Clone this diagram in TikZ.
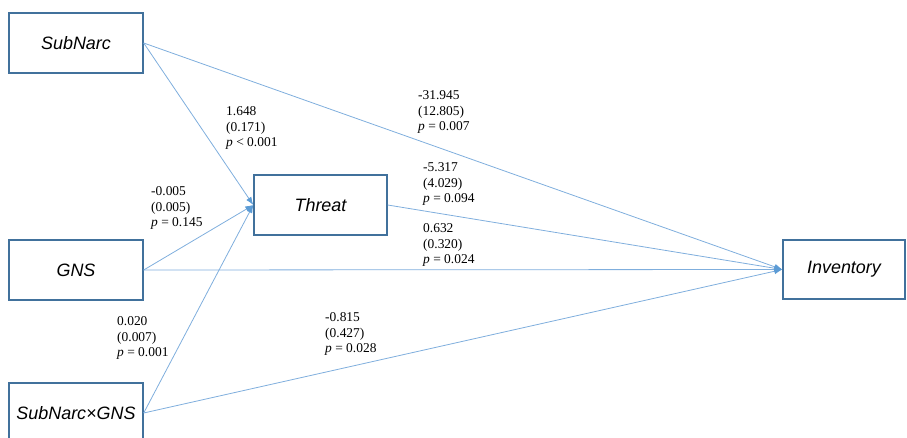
\documentclass[tikz,border=0pt]{standalone}
\usepackage{fontspec}
\setmainfont{Liberation Serif}
\setsansfont{Liberation Sans}
\usetikzlibrary{arrows.meta,positioning}
\definecolor{boxcol}{RGB}{65,113,156}
\definecolor{edgecol}{RGB}{127,174,221}
\definecolor{tipcol}{RGB}{91,155,213}

\begin{document}
\begin{tikzpicture}[x=1bp,y=-1bp,
  var/.style={draw=boxcol,line width=1.4bp,minimum width=134bp,minimum height=60bp,inner sep=0pt,
    font=\fontsize{18}{20}\selectfont\sffamily\itshape},
  edge/.style={draw=edgecol,line width=0.8bp,-{Latex[length=8bp,width=6bp,color=tipcol]}},
  est/.style={anchor=west,align=left,inner sep=0pt,font=\fontsize{13.5}{16}\selectfont}]
  \clip (0,0) rectangle (907,438);
%%
  % Node: SubNarc
  \node[var] (subnarc) at (76,43) {SubNarc};
  % Node: GNS
  \node[var] (gns) at (76,270) {GNS};
  % Node: SubNarc x GNS
  \node[var] (inter) at (76,413) {SubNarc×GNS};
  % Node: Threat
  \node[var,minimum width=133bp] (threat) at (320.5,205) {Threat};
  % Node: Inventory
  \node[var,minimum width=122bp,minimum height=59bp] (inventory) at (844,269.5) {Inventory};
%%
  % Edge: SubNarc -> Threat
  \draw[edge] (subnarc.east) -- (threat.west);
  \node[est] (lsubthr) at (226,128) {1.648\\(0.171)\\\textit{p} < 0.001};
  % Edge: SubNarc -> Inventory
  \draw[edge] (subnarc.east) -- (inventory.west);
  \node[est] (lsubinv) at (418,112) {-31.945\\(12.805)\\\textit{p} = 0.007};
  % Edge: GNS -> Threat
  \draw[edge] (gns.east) -- (threat.west);
  \node[est] (lgnsthr) at (151,208) {-0.005\\(0.005)\\\textit{p} = 0.145};
  % Edge: GNS -> Inventory
  \draw[edge] (gns.east) -- (inventory.west);
  \node[est] (lgnsinv) at (423,245) {0.632\\(0.320)\\\textit{p} = 0.024};
  % Edge: SubNarc x GNS -> Threat
  \draw[edge] (inter.east) -- (threat.west);
  \node[est] (lintthr) at (117,338) {0.020\\(0.007)\\\textit{p} = 0.001};
  % Edge: SubNarc x GNS -> Inventory
  \draw[edge] (inter.east) -- (inventory.west);
  \node[est] (lintinv) at (325,334) {-0.815\\(0.427)\\\textit{p} = 0.028};
  % Edge: Threat -> Inventory
  \draw[edge] (threat.east) -- (inventory.west);
  \node[est] (lthrinv) at (423,184) {-5.317\\(4.029)\\\textit{p} = 0.094};
%
\end{tikzpicture}
\end{document}
